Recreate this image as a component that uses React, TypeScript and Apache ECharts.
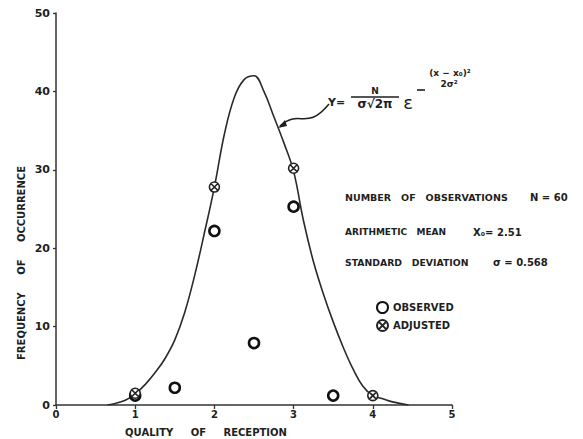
import React, { useEffect, useRef } from "react";
import * as echarts from "echarts";

// ---- data ----
const qualityObserved = [1, 1.5, 2, 2.5, 3, 3.5];
const freqObserved = [1.2, 2.2, 22.2, 7.9, 25.3, 1.2];

const qualityAdjusted = [1, 2, 3, 4];
const freqAdjusted = [1.5, 27.8, 30.2, 1.2];

// fitted normal curve
const curveX = [0.65, 0.75, 0.875, 1.0, 1.125, 1.25, 1.375, 1.5, 1.625, 1.75, 1.875, 2.0, 2.125, 2.25, 2.375, 2.5, 2.625, 2.75, 2.875, 3.0, 3.125, 3.25, 3.375, 3.5, 3.625, 3.75, 3.875, 4.0, 4.125, 4.25, 4.45];
const curveY = [0, 0.2, 0.6, 1.4, 2.6, 4.1, 5.9, 8.3, 11.8, 16.5, 22.0, 27.8, 34.5, 39.2, 41.5, 42.0, 40.0, 36.8, 33.5, 29.8, 23.5, 18.3, 14.2, 10.6, 7.4, 4.6, 2.4, 1.2, 0.8, 0.4, 0];

const statLabels = ["NUMBER   OF   OBSERVATIONS", "ARITHMETIC   MEAN", "STANDARD   DEVIATION"];
const statValues = ["N = 60", "X\u2080= 2.51", "\u03c3 = 0.568"];

const xAxisTitle = "QUALITY     OF     RECEPTION";
const yAxisTitle = "FREQUENCY     OF     OCCURRENCE";
const seriesNames = ["OBSERVED", "ADJUSTED"];

const INK = "#1e1e1e";
const FONT = '"DejaVu Sans", "Liberation Sans", sans-serif';
const crossedCircle =
  "path://M20,10A10,10,0,1,1,0,10A10,10,0,1,1,20,10Z M3,3L17,17 M17,3L3,17";

export default function App() {
  const ref = useRef<HTMLDivElement>(null);

  useEffect(() => {
    if (!ref.current) return;
    const chart = echarts.init(ref.current, undefined, { renderer: "svg" });

    const statRows = [197, 232, 262];
    const statSizes = [9.5, 9, 9.3];
    const statValueX = [530, 473, 493];

    const graphic: any[] = [];
    statLabels.forEach((t, i) => {
      graphic.push({
        type: "text",
        x: 345,
        y: statRows[i],
        style: { text: t, fill: INK, font: `bold ${statSizes[i]}px ${FONT}`, textAlign: "left", verticalAlign: "middle" },
      });
      graphic.push({
        type: "text",
        x: statValueX[i],
        y: statRows[i],
        style: { text: statValues[i], fill: INK, font: `bold 10px ${FONT}`, textAlign: "left", verticalAlign: "middle" },
      });
    });

    // axis titles
    graphic.push({
      type: "text",
      x: 206,
      y: 432,
      style: { text: xAxisTitle, fill: INK, font: `bold 10px ${FONT}`, textAlign: "center", verticalAlign: "middle" },
    });
    graphic.push({
      type: "text",
      x: 21,
      y: 263,
      rotation: Math.PI / 2,
      style: { text: yAxisTitle, fill: INK, font: `bold 10px ${FONT}`, textAlign: "center", verticalAlign: "middle" },
    });

    // formula
    const f = (text: string, x: number, y: number, size: number, align = "center", weight = "bold") => ({
      type: "text",
      x,
      y,
      style: { text, fill: INK, font: `${weight} ${size}px ${FONT}`, textAlign: align, verticalAlign: "middle" },
    });
    graphic.push(f("Y=", 328, 102, 11, "left"));
    graphic.push(f("N", 375, 91, 9));
    graphic.push({ type: "line", shape: { x1: 351, y1: 97, x2: 399, y2: 97 }, style: { stroke: INK, lineWidth: 1.6 } });
    graphic.push(f("\u03c3\u221a2\u03c0", 375, 104, 12));
    graphic.push(f("\u03b5", 408, 102, 18, "center", "normal"));
    graphic.push({ type: "line", shape: { x1: 417, y1: 90, x2: 425, y2: 90 }, style: { stroke: INK, lineWidth: 1.6 } });
    graphic.push(f("(x \u2212 x\u2080)\u00b2", 450, 73, 9));
    graphic.push(f("2\u03c3\u00b2", 449, 84, 9));

    // leader line from formula to curve
    graphic.push({
      type: "bezierCurve",
      shape: { x1: 280, y1: 126, cpx1: 300, cpy1: 108, cpx2: 306, cpy2: 132, x2: 329, y2: 104 },
      style: { stroke: INK, lineWidth: 1.5, fill: "none" },
    });
    graphic.push({
      type: "polygon",
      shape: { points: [[278, 128], [285, 120], [287, 126]] },
      style: { fill: INK },
    });

    chart.setOption({
      animation: false,
      backgroundColor: "#ffffff",
      grid: { left: 56, top: 13, width: 396, height: 392, containLabel: false },
      legend: {
        data: seriesNames,
        orient: "vertical",
        left: 376,
        top: 301,
        padding: 0,
        itemWidth: 11,
        itemHeight: 11,
        itemGap: 5,
        textStyle: { color: INK, fontFamily: FONT, fontWeight: "bold", fontSize: 10 },
      },
      xAxis: {
        type: "value",
        min: 0,
        max: 5,
        interval: 1,
        axisLine: { show: true, lineStyle: { color: "#333", width: 1.5 } },
        axisTick: { show: true, length: 4, lineStyle: { color: "#333", width: 1.3 } },
        axisLabel: { color: INK, fontFamily: FONT, fontWeight: "bold", fontSize: 10, margin: 4 },
        splitLine: { show: false },
      },
      yAxis: {
        type: "value",
        min: 0,
        max: 50,
        interval: 10,
        axisLine: { show: true, lineStyle: { color: "#333", width: 1.5 } },
        axisTick: { show: true, length: 3, lineStyle: { color: "#333", width: 1.3 } },
        axisLabel: { color: INK, fontFamily: FONT, fontWeight: "bold", fontSize: 11, margin: 6 },
        splitLine: { show: false },
      },
      series: [
        {
          name: "curve",
          type: "line",
          data: curveX.map((x, i) => [x, curveY[i]]),
          smooth: 0.4,
          showSymbol: false,
          symbol: "none",
          lineStyle: { color: "#2a2a2a", width: 1.6 },
          z: 2,
        },
        {
          name: seriesNames[0],
          type: "scatter",
          data: qualityObserved.map((x, i) => [x, freqObserved[i]]),
          symbol: "circle",
          symbolSize: 10,
          itemStyle: { color: "#ffffff", borderColor: "#111", borderWidth: 2.6, opacity: 1 },
          z: 3,
        },
        {
          name: seriesNames[1],
          type: "scatter",
          data: qualityAdjusted.map((x, i) => [x, freqAdjusted[i]]),
          symbol: crossedCircle,
          symbolSize: 10,
          itemStyle: { color: "#ffffff", borderColor: "#222", borderWidth: 1.6, opacity: 1 },
          z: 4,
        },
      ],
      graphic,
    });

    return () => chart.dispose();
  }, []);

  return (
    <div
      ref={ref}
      style={{ position: "fixed", left: 0, top: 0, width: 583, height: 439, background: "#fff" }}
    />
  );
}
